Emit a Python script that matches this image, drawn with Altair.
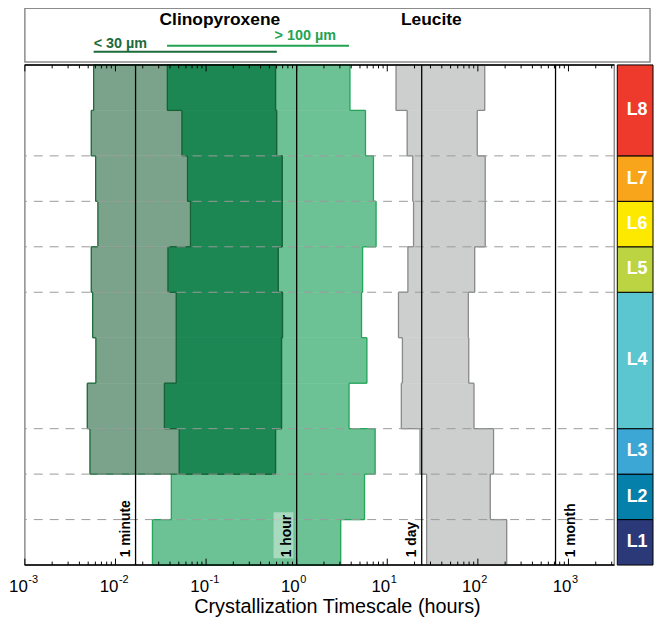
import math
import altair as alt
import pandas as pd

# ------------------------------------------------------------------ data
# depth bins of the stratigraphic column, bottom -> top (one unit each)
bin_bottom = [0, 1, 2, 3, 4, 5, 6, 7, 8, 9, 10]
column_top = 11

# clinopyroxene > 100 um crystallization timescale range (hours)
cpx_large_lo = [0.0256, 0.0414, 0.0506, 0.0347, 0.0469, 0.0469, 0.0380, 0.0673, 0.0624, 0.0542, 0.0374]
cpx_large_hi = [3.06, 5.61, 7.34, 3.78, 5.95, 5.20, 5.34, 7.52, 7.04, 5.75, 3.87]
# clinopyroxene < 30 um (absent in the two lowest bins)
cpx_small_lo = [None, None, 0.00523, 0.00489, 0.00608, 0.00560, 0.00541, 0.00640, 0.00604, 0.00541, 0.00574]
cpx_small_hi = [None, None, 0.584, 0.680, 0.680, 0.697, 0.626, 0.692, 0.692, 0.600, 0.584]
# leucite
leu_lo = [27.2, 27.2, 23.0, 14.3, 14.7, 13.3, 16.9, 19.5, 19.1, 16.6, 12.5]
leu_hi = [208, 137, 149, 90.6, 79.3, 78.5, 92.2, 120.5, 120.5, 98.5, 119]

# stratigraphic layers (colour bar)
layer_names = ["L1", "L2", "L3", "L4", "L5", "L6", "L7", "L8"]
layer_lo = [0, 1, 2, 3, 6, 7, 8, 9]
layer_hi = [1, 2, 3, 6, 7, 8, 9, 11]
layer_colors = ["#2b3979", "#0480aa", "#3ca7d4", "#5cc6d0", "#bcd442", "#fde900", "#f8a51c", "#ee3a2c"]

# reference time lines
ref_times = [1 / 60, 1, 24, 720]
ref_labels = ["1 minute", "1 hour", "1 day", "1 month"]

# crystal-size ranges shown in the header
size_labels = ["< 30 µm", "> 100 µm"]
size_lo = [0.00574, 0.0371]
size_hi = [0.604, 3.78]
size_label_at = [0.00574, 0.570]
size_colors = ["#1d6b3b", "#23a352"]

mineral_names = ["Clinopyroxene", "Leucite"]
mineral_label_at = [0.142, 30.6]

major_ticks = [1e-3, 1e-2, 1e-1, 1, 10, 100, 1000]
tick_exponents = ["-3", "-2", "-1", "0", "1", "2", "3"]
x_title = "Crystallization Timescale (hours)"

# ------------------------------------------------------------------ layout
XMIN = 1e-3
PPD = 91.3
MAIN_W, MAIN_H = 594, 504
CB_W = 36
HEAD_H = 54
XMAX = 10 ** (math.log10(XMIN) + MAIN_W / PPD)
XMAX_H = 10 ** (math.log10(XMIN) + (MAIN_W + CB_W) / PPD)

xs = alt.Scale(type="log", domain=[XMIN, XMAX], nice=False)
ys = alt.Scale(domain=[0, column_top], nice=False, zero=False)
FONT = "Liberation Sans"


def bins_df(lo, hi):
    rows = [(b, b + 1, l, h) for b, l, h in zip(bin_bottom, lo, hi) if l is not None]
    return pd.DataFrame(rows, columns=["y1", "y2", "lo", "hi"])


def outline_df(lo, hi):
    rows = [(b, l, h) for b, l, h in zip(bin_bottom, lo, hi) if l is not None]
    segs = []
    for i, (b, l, h) in enumerate(rows):
        segs.append((l, l, b, b + 1))
        segs.append((h, h, b, b + 1))
        if i > 0:
            pl, ph = rows[i - 1][1], rows[i - 1][2]
            segs.append((pl, l, b, b))
            segs.append((ph, h, b, b))
    segs.append((rows[0][1], rows[0][2], rows[0][0], rows[0][0]))
    segs.append((rows[-1][1], rows[-1][2], column_top, column_top))
    return pd.DataFrame(segs, columns=["x1", "x2", "y1", "y2"])


def band(lo, hi, fill, stroke):
    fill_layer = alt.Chart(bins_df(lo, hi)).mark_rect(fill=fill, stroke=fill, strokeWidth=0.6).encode(
        x=alt.X("lo:Q", scale=xs, axis=None), x2="hi:Q",
        y=alt.Y("y1:Q", scale=ys, axis=None), y2="y2:Q")
    line_layer = alt.Chart(outline_df(lo, hi)).mark_rule(color=stroke, strokeWidth=1.3).encode(
        x=alt.X("x1:Q", scale=xs, axis=None), x2="x2:Q",
        y=alt.Y("y1:Q", scale=ys, axis=None), y2="y2:Q")
    return [fill_layer, line_layer]


overlap_lo = [None if a is None else max(a, b) for a, b in zip(cpx_small_lo, cpx_large_lo)]
overlap_hi = [None if a is None else min(a, b) for a, b in zip(cpx_small_hi, cpx_large_hi)]

layers = []
layers += band(cpx_large_lo, cpx_large_hi, "#6dc295", "#25a55a")
layers += band(cpx_small_lo, cpx_small_hi, "#7ba38b", "#1d6b3b")
layers += band(overlap_lo, overlap_hi, "#1d8754", "#166236")
layers += band(leu_lo, leu_hi, "#cdcfce", "#8a8a8a")

# dashed layer boundaries
bounds_df = pd.DataFrame({"y": layer_lo[1:]})
layers.append(
    alt.Chart(bounds_df).mark_rule(color="#9a9a9a", strokeWidth=1, strokeDash=[9, 7]).encode(
        y=alt.Y("y:Q", scale=ys, axis=None))
)

# translucent box behind the "1 hour" label
box_df = pd.DataFrame({"x1": [0.556], "x2": [0.92], "y1": [0.15], "y2": [1.16]})
layers.append(
    alt.Chart(box_df).mark_rect(fill="white", opacity=0.4).encode(
        x=alt.X("x1:Q", scale=xs, axis=None), x2="x2:Q",
        y=alt.Y("y1:Q", scale=ys, axis=None), y2="y2:Q")
)

ref_df = pd.DataFrame({"t": ref_times, "label": ref_labels, "y": [0.17] * 4})
layers.append(
    alt.Chart(ref_df).mark_rule(color="black", strokeWidth=1.3).encode(
        x=alt.X("t:Q", scale=xs, axis=None))
)
for sub, off in [(ref_df.iloc[:3], -6), (ref_df.iloc[3:], 19.5)]:
    layers.append(
        alt.Chart(sub).mark_text(
            angle=270, align="left", baseline="alphabetic", dy=off, fontSize=14,
            fontWeight="bold", font=FONT, color="black"
        ).encode(x=alt.X("t:Q", scale=xs, axis=None), y=alt.Y("y:Q", scale=ys, axis=None), text="label:N")
    )

# inward ticks (bottom and top), major and minor
minor_ticks = [k * 10 ** d for d in range(-3, 4) for k in range(2, 10) if k * 10 ** d < XMAX]
maj_df = pd.DataFrame({"t": major_ticks, "exp": tick_exponents, "base": ["10"] * len(major_ticks)})
min_df = pd.DataFrame({"t": minor_ticks})
for df, ln in [(maj_df, 6.5), (min_df, 3.5)]:
    layers.append(alt.Chart(df).mark_rule(color="black", strokeWidth=1).encode(
        x=alt.X("t:Q", scale=xs, axis=None), y=alt.value(MAIN_H), y2=alt.value(MAIN_H - ln)))
    layers.append(alt.Chart(df).mark_rule(color="black", strokeWidth=1).encode(
        x=alt.X("t:Q", scale=xs, axis=None), y=alt.value(0), y2=alt.value(ln)))

# top and bottom frame lines
frame_df = pd.DataFrame({"y": [0, column_top]})
layers.append(
    alt.Chart(frame_df).mark_rule(color="black", strokeWidth=1.5).encode(
        y=alt.Y("y:Q", scale=ys, axis=None))
)

# tick labels 10^n
layers.append(
    alt.Chart(maj_df).mark_text(align="right", baseline="alphabetic", dx=3, fontSize=17,
                                font=FONT, color="black").encode(
        x=alt.X("t:Q", scale=xs, axis=None), y=alt.value(MAIN_H + 27), text="base:N")
)
layers.append(
    alt.Chart(maj_df).mark_text(align="left", baseline="alphabetic", dx=3.5, fontSize=11,
                                font=FONT, color="black").encode(
        x=alt.X("t:Q", scale=xs, axis=None), y=alt.value(MAIN_H + 18), text="exp:N")
)
# axis title
layers.append(
    alt.Chart(pd.DataFrame({"title": [x_title]})).mark_text(
        align="center", baseline="alphabetic", fontSize=20, font=FONT, color="black"
    ).encode(x=alt.value((MAIN_W + CB_W) / 2), y=alt.value(MAIN_H + 48), text="title:N")
)

main = alt.layer(*layers).properties(
    width=MAIN_W, height=MAIN_H,
    view=alt.ViewBackground(stroke="#8c8c8c", strokeWidth=1.5),
)

# ------------------------------------------------------------------ colour bar
cb_df = pd.DataFrame({"name": layer_names, "lo": layer_lo, "hi": layer_hi})
cb_df["mid"] = (cb_df["lo"] + cb_df["hi"]) / 2
cb_rect = alt.Chart(cb_df).mark_rect(stroke="black", strokeWidth=1).encode(
    x=alt.value(0), x2=alt.value(CB_W),
    y=alt.Y("lo:Q", scale=ys, axis=None), y2="hi:Q",
    color=alt.Color("name:N", scale=alt.Scale(domain=layer_names, range=layer_colors), legend=None),
)
cb_text = alt.Chart(cb_df).mark_text(color="white", fontSize=18, fontWeight="bold", font=FONT,
                                     baseline="middle", align="center").encode(
    x=alt.value(CB_W / 2 + 2), y=alt.Y("mid:Q", scale=ys, axis=None), text="name:N")
colorbar = alt.layer(cb_rect, cb_text).properties(width=CB_W, height=MAIN_H)

# ------------------------------------------------------------------ header
xh = alt.Scale(type="log", domain=[XMIN, XMAX_H], nice=False)
head_layers = [
    alt.Chart(pd.DataFrame({"t": mineral_label_at, "label": mineral_names})).mark_text(
        fontSize=17.5, fontWeight="bold", font=FONT, color="black", baseline="middle", align="center"
    ).encode(x=alt.X("t:Q", scale=xh, axis=None), y=alt.value(12), text="label:N")
]
size_text_y = [36, 28]
size_line_y = [43.7, 37.7]
for i in range(2):
    d = pd.DataFrame({"lo": [size_lo[i]], "hi": [size_hi[i]]})
    head_layers.append(alt.Chart(d).mark_rule(color=size_colors[i], strokeWidth=2).encode(
        x=alt.X("lo:Q", scale=xh, axis=None), x2="hi:Q", y=alt.value(size_line_y[i])))
    d2 = pd.DataFrame({"t": [size_label_at[i]], "label": [size_labels[i]]})
    head_layers.append(alt.Chart(d2).mark_text(
        fontSize=14.5, fontWeight="bold", font=FONT, color=size_colors[i], align="left", baseline="middle"
    ).encode(x=alt.X("t:Q", scale=xh, axis=None), y=alt.value(size_text_y[i]), text="label:N"))

header = alt.layer(*head_layers).properties(
    width=MAIN_W + CB_W, height=HEAD_H,
    view=alt.ViewBackground(stroke="#8c8c8c", strokeWidth=1.5),
)

chart = alt.vconcat(
    header, alt.hconcat(main, colorbar, spacing=0), spacing=0
).properties(
    padding={"left": 0, "top": -3, "right": 0, "bottom": 0}
).configure(font=FONT).configure_view(stroke=None)

chart.save("out.html", embed_options={"renderer": "svg", "actions": False})
